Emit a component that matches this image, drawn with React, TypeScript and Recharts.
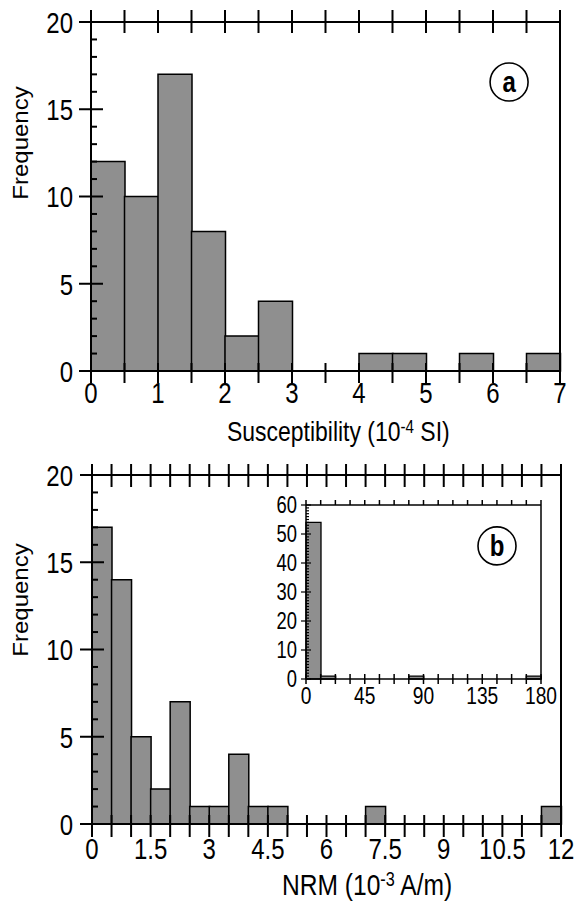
import { BarChart, Bar, XAxis, YAxis, ReferenceDot } from "recharts"

// (a) susceptibility histogram, bins of 0.5 (10^-4 SI)
const suscBinStart = [0, 0.5, 1, 1.5, 2, 2.5, 3, 3.5, 4, 4.5, 5, 5.5, 6, 6.5]
const suscCounts = [12, 10, 17, 8, 2, 4, 0, 0, 1, 1, 0, 1, 0, 1]
const suscBinWidth = 0.5
const suscXTicks = [0, 0.5, 1, 1.5, 2, 2.5, 3, 3.5, 4, 4.5, 5, 5.5, 6, 6.5, 7]
const suscXLabels = [0, 1, 2, 3, 4, 5, 6, 7]

// (b) NRM histogram, bins of 0.5 (10^-3 A/m)
const nrmBinStart = [
  0, 0.5, 1, 1.5, 2, 2.5, 3, 3.5, 4, 4.5, 5, 5.5,
  6, 6.5, 7, 7.5, 8, 8.5, 9, 9.5, 10, 10.5, 11, 11.5
]
const nrmCounts = [17, 14, 5, 2, 7, 1, 1, 4, 1, 1, 0, 0, 0, 0, 1, 0, 0, 0, 0, 0, 0, 0, 0, 1]
const nrmBinWidth = 0.5
const nrmXTicks = [
  0, 0.5, 1, 1.5, 2, 2.5, 3, 3.5, 4, 4.5, 5, 5.5, 6,
  6.5, 7, 7.5, 8, 8.5, 9, 9.5, 10, 10.5, 11, 11.5, 12
]
const nrmXLabels = [0, 1.5, 3, 4.5, 6, 7.5, 9, 10.5, 12]

// inset of (b): full NRM range
const insetBinStart = [
  0, 11.25, 22.5, 33.75, 45, 56.25, 67.5, 78.75,
  90, 101.25, 112.5, 123.75, 135, 146.25, 157.5, 168.75
]
const insetCounts = [54, 1, 0, 0, 0, 0, 0, 1, 0, 0, 0, 0, 0, 0, 0, 1]
const insetBinWidth = 11.25
const insetXTicks = [
  0, 11.25, 22.5, 33.75, 45, 56.25, 67.5, 78.75, 90,
  101.25, 112.5, 123.75, 135, 146.25, 157.5, 168.75, 180
]
const insetXLabels = [0, 45, 90, 135, 180]
const insetYTicks = Array.from({ length: 61 }, (_, i) => i)
const insetYLabels = [0, 10, 20, 30, 40, 50, 60]

const freqTicks = Array.from({ length: 21 }, (_, i) => i)
const freqLabels = [0, 5, 10, 15, 20]

const suscData = suscBinStart.map((s, i) => ({ x: s + suscBinWidth / 2, n: suscCounts[i] }))
const nrmData = nrmBinStart.map((s, i) => ({ x: s + nrmBinWidth / 2, n: nrmCounts[i] }))
const insetData = insetBinStart.map((s, i) => ({ x: s + insetBinWidth / 2, n: insetCounts[i] }))

const FONT = "'Liberation Sans', Arial, Helvetica, sans-serif"
const SQ = 0.8
const BAR_FILL = "#8f8f8f"
const AX = { stroke: "#000", strokeWidth: 2 }
const AX_IN = { stroke: "#000", strokeWidth: 1.5 }

type TickOpts = {
  side: "bottom" | "top" | "left" | "right"
  majors: number[]
  labels: number[]
  out: number
  inn: number
  minorOut: number
  minorIn: number
  gap: number
  size: number
  width: number
}

function makeTick(o: TickOpts) {
  return (props: any) => {
    const { x, y, payload } = props
    const v = payload.value
    const major = o.majors.includes(v)
    const a = major ? o.out : o.minorOut
    const b = major ? o.inn : o.minorIn
    let line
    if (o.side === "bottom") line = <line x1={x} x2={x} y1={y - b} y2={y + a} />
    else if (o.side === "top") line = <line x1={x} x2={x} y1={y - a} y2={y + b} />
    else if (o.side === "left") line = <line x1={x - a} x2={x + b} y1={y} y2={y} />
    else line = <line x1={x - b} x2={x + a} y1={y} y2={y} />

    let label = null
    if (o.labels.includes(v)) {
      if (o.side === "bottom") {
        label = (
          <text transform={`translate(${x},${y + o.gap}) scale(${SQ},1)`} textAnchor="middle">
            {String(v)}
          </text>
        )
      } else if (o.side === "left") {
        label = (
          <text transform={`translate(${x - o.gap},${y + o.size * 0.36}) scale(${SQ},1)`} textAnchor="end">
            {String(v)}
          </text>
        )
      }
    }
    return (
      <g stroke="#000" strokeWidth={o.width} fill="#000" fontSize={o.size} fontFamily={FONT}>
        {line}
        {label && <g stroke="none">{label}</g>}
      </g>
    )
  }
}

function Badge(letter: string) {
  return (props: any) => {
    const { cx, cy, r } = props
    return (
      <g>
        <circle cx={cx} cy={cy} r={r} fill="#fff" stroke="#000" strokeWidth={1.6} />
        <text
          transform={`translate(${cx},${cy + 10}) scale(${SQ},1)`}
          textAnchor="middle"
          fontFamily={FONT}
          fontWeight="bold"
          fontSize={30}
          fill="#000"
        >
          {letter}
        </text>
      </g>
    )
  }
}

function FreqTitle(cy: number) {
  return () => (
    <text
      transform={`translate(28,${cy}) scale(0.9,1) rotate(-90)`}
      textAnchor="middle"
      fontFamily={FONT}
      fontSize={24}
      fill="#000"
    >
      Frequency
    </text>
  )
}

function XTitle(x: number, y: number, size: number, main: string, sup: string, tail: string) {
  return () => (
    <text transform={`translate(${x},${y}) scale(0.82,1)`} fontFamily={FONT} fontSize={size} fill="#000">
      <tspan>{main}</tspan>
      <tspan fontSize={size * 0.66} dy={-size * 0.3}>{sup}</tspan>
      <tspan dy={size * 0.3}>{tail}</tspan>
    </text>
  )
}

function SusceptibilityChart() {
  return (
    <BarChart
      width={575}
      height={455}
      data={suscData}
      margin={{ top: 0, right: 0, bottom: 0, left: 0 }}
      barCategoryGap={0}
      barGap={0}
    >
      <XAxis
        xAxisId="b"
        type="number"
        dataKey="x"
        domain={[0, 7]}
        ticks={suscXTicks}
        interval={0}
        tickSize={0}
        tickMargin={0}
        tickLine={false}
        axisLine={AX}
        height={84}
        tick={makeTick({ side: "bottom", majors: suscXTicks, labels: suscXLabels, out: 12, inn: 8, minorOut: 12, minorIn: 8, gap: 32, size: 30, width: 2 })}
        label={{ content: XTitle(227, 441, 28, "Susceptibility (10", "-4", " SI)") }}
      />
      <XAxis
        xAxisId="t"
        orientation="top"
        type="number"
        dataKey="x"
        domain={[0, 7]}
        ticks={suscXTicks}
        interval={0}
        tickSize={0}
        tickMargin={0}
        tickLine={false}
        axisLine={AX}
        height={22}
        tick={makeTick({ side: "top", majors: suscXTicks, labels: [], out: 12, inn: 11, minorOut: 12, minorIn: 11, gap: 0, size: 30, width: 2 })}
      />
      <YAxis
        yAxisId="l"
        type="number"
        domain={[0, 20]}
        ticks={freqTicks}
        interval={0}
        tickSize={0}
        tickMargin={0}
        tickLine={false}
        axisLine={AX}
        width={91}
        tick={makeTick({ side: "left", majors: freqLabels, labels: freqLabels, out: 12, inn: 12, minorOut: 0, minorIn: 6, gap: 18, size: 30, width: 2 })}
        label={{ content: FreqTitle(143) }}
      />
      <YAxis
        yAxisId="r"
        orientation="right"
        type="number"
        domain={[0, 20]}
        ticks={freqTicks}
        interval={0}
        tickSize={0}
        tickMargin={0}
        tickLine={false}
        axisLine={AX}
        width={15}
        tick={makeTick({ side: "right", majors: freqLabels, labels: [], out: 13, inn: 12, minorOut: 0, minorIn: 6, gap: 0, size: 30, width: 2 })}
      />
      <Bar
        xAxisId="b"
        yAxisId="l"
        dataKey="n"
        fill={BAR_FILL}
        stroke="#000"
        strokeWidth={1.5}
        isAnimationActive={false}
      />
      <ReferenceDot xAxisId="b" yAxisId="l" x={6.24} y={16.56} r={19} shape={Badge("a")} />
    </BarChart>
  )
}

function NrmChart() {
  return (
    <BarChart
      width={575}
      height={463}
      data={nrmData}
      margin={{ top: 0, right: 0, bottom: 0, left: 0 }}
      barCategoryGap={0}
      barGap={0}
    >
      <XAxis
        xAxisId="b"
        type="number"
        dataKey="x"
        domain={[0, 12]}
        ticks={nrmXTicks}
        interval={0}
        tickSize={0}
        tickMargin={0}
        tickLine={false}
        axisLine={AX}
        height={79}
        tick={makeTick({ side: "bottom", majors: nrmXTicks, labels: nrmXLabels, out: 13, inn: 9, minorOut: 13, minorIn: 9, gap: 35, size: 30, width: 2 })}
        label={{ content: XTitle(282, 455, 30, "NRM (10", "-3", " A/m)") }}
      />
      <XAxis
        xAxisId="t"
        orientation="top"
        type="number"
        dataKey="x"
        domain={[0, 12]}
        ticks={nrmXTicks}
        interval={0}
        tickSize={0}
        tickMargin={0}
        tickLine={false}
        axisLine={AX}
        height={35}
        tick={makeTick({ side: "top", majors: nrmXTicks, labels: [], out: 11, inn: 12, minorOut: 11, minorIn: 12, gap: 0, size: 30, width: 2 })}
      />
      <YAxis
        yAxisId="l"
        type="number"
        domain={[0, 20]}
        ticks={freqTicks}
        interval={0}
        tickSize={0}
        tickMargin={0}
        tickLine={false}
        axisLine={AX}
        width={92}
        tick={makeTick({ side: "left", majors: freqLabels, labels: freqLabels, out: 12, inn: 12, minorOut: 0, minorIn: 6, gap: 19, size: 30, width: 2 })}
        label={{ content: FreqTitle(160) }}
      />
      <YAxis
        yAxisId="r"
        orientation="right"
        type="number"
        domain={[0, 20]}
        ticks={freqTicks}
        interval={0}
        tickSize={0}
        tickMargin={0}
        tickLine={false}
        axisLine={AX}
        width={14}
        tick={makeTick({ side: "right", majors: freqLabels, labels: [], out: 13, inn: 12, minorOut: 0, minorIn: 6, gap: 0, size: 30, width: 2 })}
      />
      <Bar
        xAxisId="b"
        yAxisId="l"
        dataKey="n"
        fill={BAR_FILL}
        stroke="#000"
        strokeWidth={1.5}
        isAnimationActive={false}
      />
    </BarChart>
  )
}

function NrmInset() {
  return (
    <BarChart
      width={310}
      height={230}
      data={insetData}
      margin={{ top: 0, right: 0, bottom: 0, left: 0 }}
      barCategoryGap={0}
      barGap={0}
    >
      <XAxis
        xAxisId="b"
        type="number"
        dataKey="x"
        domain={[0, 180]}
        ticks={insetXTicks}
        interval={0}
        tickSize={0}
        tickMargin={0}
        tickLine={false}
        axisLine={AX_IN}
        height={39}
        tick={makeTick({ side: "bottom", majors: insetXTicks, labels: insetXLabels, out: 5, inn: 5, minorOut: 5, minorIn: 5, gap: 25, size: 24, width: 1.5 })}
      />
      <XAxis
        xAxisId="t"
        orientation="top"
        type="number"
        dataKey="x"
        domain={[0, 180]}
        ticks={insetXTicks}
        interval={0}
        tickSize={0}
        tickMargin={0}
        tickLine={false}
        axisLine={AX_IN}
        height={17}
        tick={makeTick({ side: "top", majors: insetXTicks, labels: [], out: 5, inn: 0, minorOut: 5, minorIn: 0, gap: 0, size: 24, width: 1.5 })}
      />
      <YAxis
        yAxisId="l"
        type="number"
        domain={[0, 60]}
        ticks={insetYTicks}
        interval={0}
        tickSize={0}
        tickMargin={0}
        tickLine={false}
        axisLine={AX_IN}
        width={51}
        tick={makeTick({ side: "left", majors: insetYLabels, labels: insetYLabels, out: 5, inn: 5, minorOut: 0, minorIn: 3, gap: 9, size: 23, width: 1.2 })}
      />
      <YAxis
        yAxisId="r"
        orientation="right"
        type="number"
        domain={[0, 60]}
        ticks={insetYTicks}
        interval={0}
        tickSize={0}
        tickMargin={0}
        tickLine={false}
        axisLine={AX_IN}
        width={24}
        tick={makeTick({ side: "right", majors: insetYLabels, labels: [], out: 6, inn: 5, minorOut: 0, minorIn: 3, gap: 0, size: 23, width: 1.2 })}
      />
      <Bar
        xAxisId="b"
        yAxisId="l"
        dataKey="n"
        fill={BAR_FILL}
        stroke="#000"
        strokeWidth={1.3}
        isAnimationActive={false}
      />
      <ReferenceDot xAxisId="b" yAxisId="l" x={146.3} y={45.9} r={19} shape={Badge("b")} />
    </BarChart>
  )
}

export default function App() {
  return (
    <div style={{ position: "absolute", left: 0, top: 0, width: 575, height: 903, background: "#fff" }}>
      <div style={{ position: "absolute", left: 0, top: 0 }}>
        <SusceptibilityChart />
      </div>
      <div style={{ position: "absolute", left: 0, top: 440 }}>
        <NrmChart />
      </div>
      <div style={{ position: "absolute", left: 255, top: 488 }}>
        <NrmInset />
      </div>
    </div>
  )
}
